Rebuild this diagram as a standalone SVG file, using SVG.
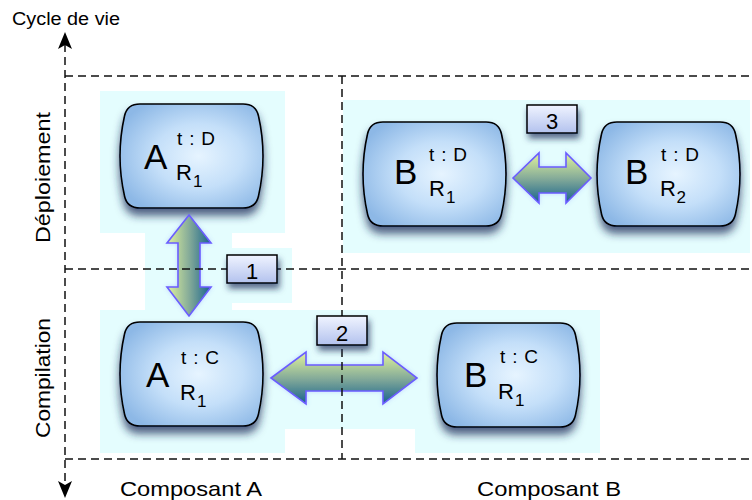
<svg xmlns="http://www.w3.org/2000/svg" xmlns:xlink="http://www.w3.org/1999/xlink" width="752" height="500" viewBox="0 0 752 500">
<defs>
<style>
text{font-family:"Liberation Sans",Arial,Helvetica,sans-serif;fill:#000}
.bg{fill:#E4FDFE}
.dash{stroke:#111;stroke-width:1.5;stroke-dasharray:8 5;fill:none}
.node{fill:url(#nodeGrad);stroke:#000;stroke-width:1.6}
.big{font-size:35px}
.tt{font-size:19px}
.r{font-size:22px}
.arrV{fill:url(#gradV);stroke:#6A5CFF;stroke-width:1.6;stroke-linejoin:miter}
.arrH{fill:url(#gradH);stroke:#6A5CFF;stroke-width:1.6;stroke-linejoin:miter}
.lbl rect{fill:url(#lblGrad);stroke:#000;stroke-width:1.5}
.lbl text{font-size:22px;text-anchor:middle}
.ax{font-size:21px}
</style>
<radialGradient id="nodeGrad" cx="0.55" cy="0.5" r="0.62">
<stop offset="0" stop-color="#E6F4FF"/>
<stop offset="0.5" stop-color="#C4DFF9"/>
<stop offset="1" stop-color="#8DB8E6"/>
</radialGradient>
<linearGradient id="gradV" x1="0" y1="0" x2="1" y2="0">
<stop offset="0" stop-color="#E2F49C"/>
<stop offset="0.5" stop-color="#86AC99"/>
<stop offset="1" stop-color="#17628C"/>
</linearGradient>
<linearGradient id="gradH" x1="0" y1="0" x2="0" y2="1">
<stop offset="0" stop-color="#E2F49C"/>
<stop offset="0.5" stop-color="#86AC99"/>
<stop offset="1" stop-color="#17628C"/>
</linearGradient>
<linearGradient id="lblGrad" x1="0" y1="0" x2="0" y2="1">
<stop offset="0" stop-color="#F0F4FF"/>
<stop offset="1" stop-color="#B3C2EE"/>
</linearGradient>
<filter id="shadow" x="-20%" y="-20%" width="140%" height="160%">
<feGaussianBlur in="SourceAlpha" stdDeviation="4"/>
<feOffset dx="0" dy="7" result="b"/>
<feFlood flood-color="#1C2C5A" flood-opacity="0.75"/>
<feComposite in2="b" operator="in"/>
<feMerge><feMergeNode/><feMergeNode in="SourceGraphic"/></feMerge>
</filter>
<filter id="lshadow" x="-30%" y="-40%" width="160%" height="200%">
<feGaussianBlur in="SourceAlpha" stdDeviation="3"/>
<feOffset dx="2" dy="5" result="b"/>
<feFlood flood-color="#1C2C5A" flood-opacity="0.7"/>
<feComposite in2="b" operator="in"/>
<feMerge><feMergeNode/><feMergeNode in="SourceGraphic"/></feMerge>
</filter>
<filter id="glow" x="-30%" y="-30%" width="160%" height="160%">
<feFlood flood-color="#6A7CFF" flood-opacity="0.3"/>
<feComposite operator="in" in2="SourceAlpha" result="x"/>
<feGaussianBlur in="x" stdDeviation="2"/>
<feMerge><feMergeNode/><feMergeNode in="SourceGraphic"/></feMerge>
</filter>
<path id="nodeShape" d="M20,0 H123 Q136,0 138.5,12 Q143,32 143,52 Q143,72 138.5,92 Q136,104 123,104 H20 Q7,104 4.5,92 Q0,72 0,52 Q0,32 4.5,12 Q7,0 20,0 Z"/>
</defs>

<g id="backgrounds">
<rect class="bg" x="100" y="91" width="185" height="142"/>
<rect class="bg" x="145" y="233" width="87" height="77"/>
<rect class="bg" x="232" y="248" width="60" height="55"/>
<rect class="bg" x="100" y="310" width="185" height="143"/>
<rect class="bg" x="285" y="310" width="130" height="119"/>
<rect class="bg" x="415" y="310" width="185" height="143"/>
<rect class="bg" x="343" y="100" width="407" height="153"/>
</g>

<g id="node-A-D">
<use xlink:href="#nodeShape" class="node" filter="url(#shadow)" transform="translate(120,104)"/>
<text class="big" x="144" y="169">A</text>
<text class="tt" x="177" y="145" textLength="38" lengthAdjust="spacing">t : D</text>
<text class="r" x="176" y="180">R<tspan font-size="17" dx="1" dy="7">1</tspan></text>
</g>

<g id="node-B-D-R1">
<use xlink:href="#nodeShape" class="node" filter="url(#shadow)" transform="translate(363,122)"/>
<text class="big" x="394" y="184">B</text>
<text class="tt" x="429" y="161" textLength="38" lengthAdjust="spacing">t : D</text>
<text class="r" x="429" y="196">R<tspan font-size="17" dx="1" dy="7">1</tspan></text>
</g>

<g id="node-B-D-R2">
<use xlink:href="#nodeShape" class="node" filter="url(#shadow)" transform="translate(597,122)"/>
<text class="big" x="625" y="184">B</text>
<text class="tt" x="661" y="161" textLength="38" lengthAdjust="spacing">t : D</text>
<text class="r" x="660" y="196">R<tspan font-size="17" dx="0.5" dy="7">2</tspan></text>
</g>

<g id="node-A-C">
<use xlink:href="#nodeShape" class="node" filter="url(#shadow)" transform="translate(120,322)"/>
<text class="big" x="146" y="387">A</text>
<text class="tt" x="181" y="364" textLength="38" lengthAdjust="spacing">t : C</text>
<text class="r" x="180" y="400">R<tspan font-size="17" dx="1" dy="7">1</tspan></text>
</g>

<g id="node-B-C">
<use xlink:href="#nodeShape" class="node" filter="url(#shadow)" transform="translate(437,323)"/>
<text class="big" x="464" y="387">B</text>
<text class="tt" x="500" y="363" textLength="38" lengthAdjust="spacing">t : C</text>
<text class="r" x="498" y="399">R<tspan font-size="17" dx="1" dy="7">1</tspan></text>
</g>

<g id="connectors">
<path class="arrV" filter="url(#glow)" d="M189,215 L211,243 L200,243 L200,287 L211,287 L189,316 L167,287 L178,287 L178,243 L167,243 Z"/>
<path class="arrH" filter="url(#glow)" d="M271,378 L306,352 L306,365 L383,365 L383,352 L417,378 L383,404 L383,391 L306,391 L306,404 Z"/>
<path class="arrH" filter="url(#glow)" d="M513,178 L539,153 L539,167 L566,167 L566,153 L591,178 L566,203 L566,193 L539,193 L539,203 Z"/>
</g>

<g id="grid">
<line class="dash" x1="65" y1="44" x2="65" y2="485"/>
<line class="dash" x1="65" y1="76" x2="752" y2="76"/>
<line class="dash" x1="65" y1="269" x2="752" y2="269"/>
<line class="dash" x1="65" y1="459" x2="752" y2="459"/>
<line class="dash" x1="342" y1="76" x2="342" y2="459"/>
<path d="M65,32 L72,49 L65,45 L58,49 Z" fill="#000"/>
<path d="M65,498 L72,481 L65,485 L58,481 Z" fill="#000"/>
</g>

<g id="label-1" class="lbl">
<rect x="227" y="255" width="50" height="28" filter="url(#lshadow)"/>
<text x="252" y="279">1</text>
</g>
<g id="label-2" class="lbl">
<rect x="317" y="316" width="50" height="29" filter="url(#lshadow)"/>
<text x="342" y="341">2</text>
</g>
<g id="label-3" class="lbl">
<rect x="527" y="105" width="50" height="28" filter="url(#lshadow)"/>
<text x="552" y="129">3</text>
</g>

<g id="axis-labels">
<text x="12" y="25" font-size="18" textLength="108" lengthAdjust="spacingAndGlyphs">Cycle de vie</text>
<text class="ax" transform="translate(50,243) rotate(-90)" textLength="131" lengthAdjust="spacingAndGlyphs">Déploiement</text>
<text class="ax" transform="translate(50,438) rotate(-90)" textLength="120" lengthAdjust="spacingAndGlyphs">Compilation</text>
<text class="ax" x="120" y="496" textLength="142" lengthAdjust="spacingAndGlyphs">Composant A</text>
<text class="ax" x="477" y="496" textLength="144" lengthAdjust="spacingAndGlyphs">Composant B</text>
</g>
</svg>
